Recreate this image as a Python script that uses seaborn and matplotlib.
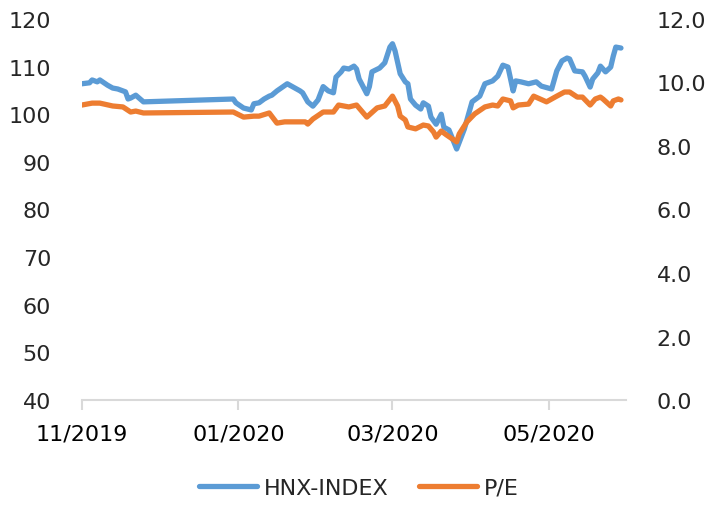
import pandas as pd
import numpy as np
import seaborn as sns
import matplotlib.pyplot as plt
import matplotlib.dates as mdates

# ------------------- Data -------------------
hnx_dates = ["2019-11-01", "2019-11-04", "2019-11-05", "2019-11-07", "2019-11-08",
             "2019-11-11", "2019-11-13", "2019-11-15", "2019-11-18", "2019-11-19",
             "2019-11-20", "2019-11-22", "2019-11-25", "2019-12-30", "2019-12-31",
             "2020-01-03", "2020-01-06", "2020-01-07", "2020-01-09", "2020-01-11",
             "2020-01-13", "2020-01-14", "2020-01-16", "2020-01-20", "2020-01-22",
             "2020-01-25", "2020-01-26", "2020-01-28", "2020-01-30", "2020-02-01",
             "2020-02-03", "2020-02-05", "2020-02-07", "2020-02-08", "2020-02-10",
             "2020-02-11", "2020-02-13", "2020-02-15", "2020-02-16", "2020-02-17",
             "2020-02-20", "2020-02-21", "2020-02-22", "2020-02-25", "2020-02-27",
             "2020-02-29", "2020-03-01", "2020-03-02", "2020-03-04", "2020-03-06",
             "2020-03-07", "2020-03-08", "2020-03-10", "2020-03-12", "2020-03-13",
             "2020-03-15", "2020-03-16", "2020-03-18", "2020-03-20", "2020-03-21",
             "2020-03-23", "2020-03-26", "2020-03-29", "2020-04-01", "2020-04-04",
             "2020-04-06", "2020-04-09", "2020-04-11", "2020-04-13", "2020-04-15",
             "2020-04-17", "2020-04-18", "2020-04-20", "2020-04-23", "2020-04-26",
             "2020-04-28", "2020-05-02", "2020-05-04", "2020-05-06", "2020-05-08",
             "2020-05-09", "2020-05-11", "2020-05-14", "2020-05-15", "2020-05-17",
             "2020-05-18", "2020-05-20", "2020-05-21", "2020-05-23", "2020-05-25",
             "2020-05-26", "2020-05-27", "2020-05-29"]
hnx_values = [106.4, 106.6, 107.2, 106.8, 107.2,
              106.1, 105.5, 105.3, 104.7, 103.2,
              103.4, 104.0, 102.6, 103.2, 102.4,
              101.3, 100.9, 102.2, 102.4, 103.2,
              103.8, 104.0, 104.9, 106.4, 105.8,
              104.9, 104.5, 102.6, 101.7, 103.0,
              105.8, 104.9, 104.5, 107.8, 108.9,
              109.7, 109.5, 110.1, 109.5, 107.4,
              104.3, 105.8, 108.9, 109.7, 110.8,
              114.1, 114.8, 113.3, 108.5, 106.8,
              106.4, 103.2, 101.9, 101.1, 102.4,
              101.7, 99.4, 97.9, 100.0, 97.3,
              96.7, 92.7, 96.9, 102.6, 103.8,
              106.4, 107.0, 108.0, 110.3, 109.9,
              104.9, 107.0, 106.8, 106.4, 106.8,
              105.9, 105.3, 109.1, 111.2, 111.8,
              111.6, 109.1, 108.9, 108.0, 105.7,
              107.4, 108.7, 110.1, 108.9, 109.9,
              112.2, 114.1, 113.9]

pe_dates = ["2019-11-01", "2019-11-05", "2019-11-08", "2019-11-13", "2019-11-17",
            "2019-11-20", "2019-11-22", "2019-11-25", "2019-12-30", "2020-01-03",
            "2020-01-07", "2020-01-09", "2020-01-13", "2020-01-16", "2020-01-19",
            "2020-01-27", "2020-01-28", "2020-01-30", "2020-02-03", "2020-02-07",
            "2020-02-09", "2020-02-13", "2020-02-16", "2020-02-20", "2020-02-24",
            "2020-02-27", "2020-03-01", "2020-03-03", "2020-03-04", "2020-03-06",
            "2020-03-07", "2020-03-10", "2020-03-13", "2020-03-15", "2020-03-17",
            "2020-03-18", "2020-03-20", "2020-03-22", "2020-03-26", "2020-03-27",
            "2020-03-30", "2020-04-02", "2020-04-06", "2020-04-09", "2020-04-11",
            "2020-04-13", "2020-04-16", "2020-04-17", "2020-04-19", "2020-04-23",
            "2020-04-25", "2020-04-30", "2020-05-04", "2020-05-07", "2020-05-09",
            "2020-05-12", "2020-05-14", "2020-05-17", "2020-05-19", "2020-05-21",
            "2020-05-22", "2020-05-25", "2020-05-26", "2020-05-28", "2020-05-29"]
pe_values = [9.29, 9.35, 9.35, 9.26, 9.23,
             9.07, 9.10, 9.04, 9.07, 8.91,
             8.94, 8.94, 9.04, 8.72, 8.76,
             8.76, 8.69, 8.85, 9.07, 9.07,
             9.29, 9.23, 9.29, 8.91, 9.20,
             9.26, 9.57, 9.26, 8.94, 8.82,
             8.60, 8.54, 8.66, 8.63, 8.44,
             8.28, 8.47, 8.35, 8.13, 8.38,
             8.76, 9.01, 9.23, 9.29, 9.26,
             9.48, 9.42, 9.20, 9.29, 9.32,
             9.57, 9.39, 9.57, 9.70, 9.70,
             9.54, 9.54, 9.29, 9.48, 9.54,
             9.48, 9.26, 9.42, 9.48, 9.45]

hnx = pd.DataFrame({"date": pd.to_datetime(hnx_dates), "value": hnx_values})
pe = pd.DataFrame({"date": pd.to_datetime(pe_dates), "value": pe_values})

# ------------------- Plot -------------------
sns.set_style("white")
plt.rcParams['font.family'] = ['DejaVu Sans']

fig = plt.figure(figsize=(7.18, 5.06), dpi=100)
ax = fig.add_axes([0.114, 0.2075, 0.758, 0.753])
ax2 = ax.twinx()

sns.lineplot(data=hnx, x="date", y="value", ax=ax, color="#5B9BD5", lw=3.8,
             label="HNX-INDEX", legend=False)
sns.lineplot(data=pe, x="date", y="value", ax=ax2, color="#ED7D31", lw=3.8,
             label="P/E", legend=False)

ax.set_ylim(40, 120)
ax.set_yticks(range(40, 121, 10))
ax2.set_ylim(0, 12)
ax2.set_yticks(np.arange(0, 12.1, 2))
ax2.set_yticklabels([f"{v:.1f}" for v in np.arange(0, 12.1, 2)])

ax.set_xlim(pd.Timestamp("2019-11-01"), pd.Timestamp("2020-05-31"))
ax.xaxis.set_major_locator(mdates.MonthLocator(bymonth=[1, 3, 5, 11]))
ax.xaxis.set_major_formatter(mdates.DateFormatter("%m/%Y"))

for a in (ax, ax2):
    a.set_xlabel("")
    a.set_ylabel("")
    for s in ("top", "left", "right", "bottom"):
        a.spines[s].set_visible(False)
ax.spines["bottom"].set_visible(True)
ax.spines["bottom"].set_color("#d9d9d9")
ax.spines["bottom"].set_linewidth(1.5)

ax.tick_params(axis="x", length=7, width=1.5, color="#d9d9d9", pad=10,
               labelsize=16, labelcolor="black", bottom=True)
ax.tick_params(axis="y", length=0, pad=22, labelsize=16)
ax2.tick_params(axis="y", length=0, pad=22, labelsize=16)

h1, l1 = ax.get_legend_handles_labels()
h2, l2 = ax2.get_legend_handles_labels()
fig.legend(h1 + h2, l1 + l2, loc="lower center", bbox_to_anchor=(0.5, -0.025),
           ncol=2, frameon=False, fontsize=16, handlelength=2.6,
           columnspacing=1.4, handletextpad=0.3)

fig.savefig("out.png", dpi=100)
